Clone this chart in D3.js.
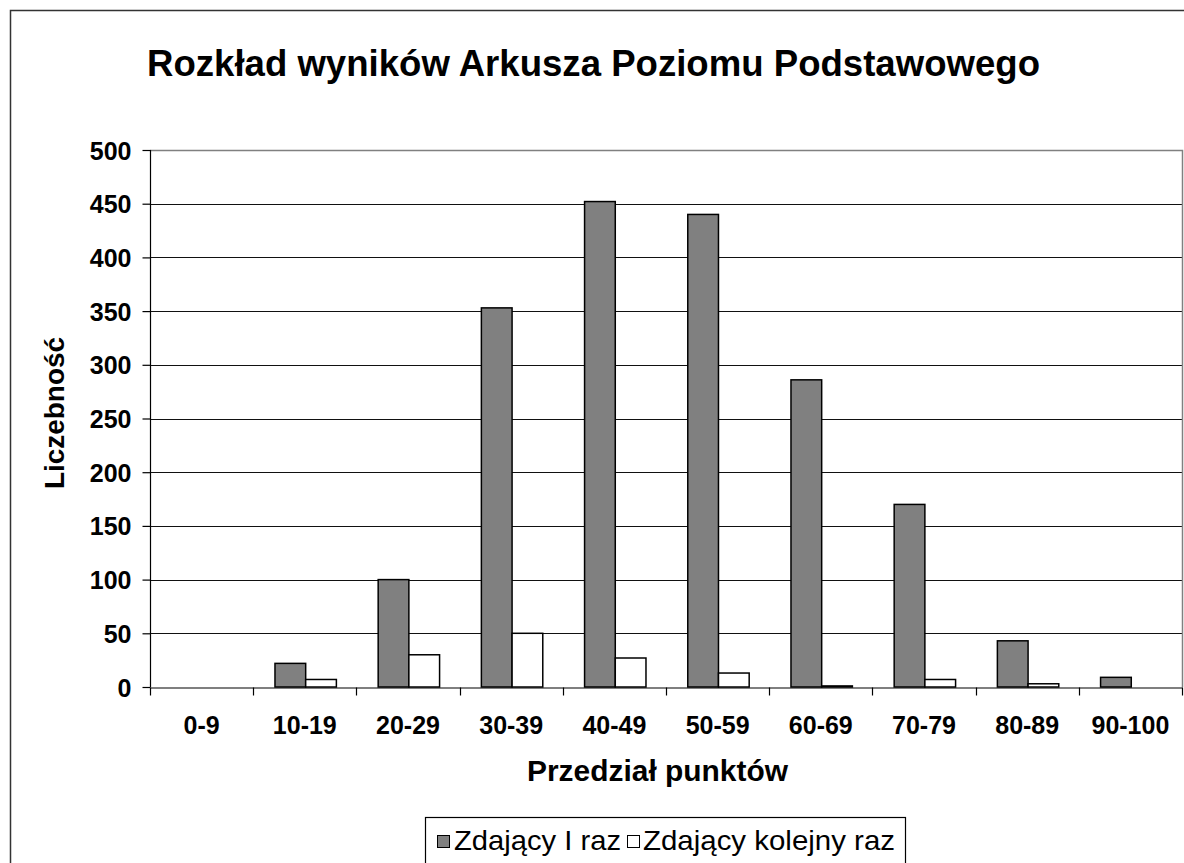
<!DOCTYPE html>
<html>
<head>
<meta charset="utf-8">
<script src="https://cdn.jsdelivr.net/npm/d3@7"></script>
<style>
  html, body { margin: 0; padding: 0; background: #fff; }
  svg { display: block; }
  text { font-family: "Liberation Sans", Arial, sans-serif; fill: #000; }
</style>
</head>
<body>
<svg id="chart" width="1184" height="863"></svg>
<script>
const title = "Rozkład wyników Arkusza Poziomu Podstawowego";
const categories = ["0-9", "10-19", "20-29", "30-39", "40-49", "50-59", "60-69", "70-79", "80-89", "90-100"];
const seriesNames = ["Zdający I raz", "Zdający kolejny raz"];
const firstTime = [0, 22, 100, 353, 452, 440, 286, 170, 43, 9];
const nextTime = [0, 7, 30, 50, 27, 13, 1, 7, 3, 0];
const yTicks = [0, 50, 100, 150, 200, 250, 300, 350, 400, 450, 500];
const xTitle = "Przedział punktów";
const yTitle = "Liczebność";
const colors = ["#808080", "#ffffff"];

const svg = d3.select("#chart");
const W = 1184, H = 863;
const m = { left: 150, right: 1182, top: 150, bottom: 687 };

// outer chart border
svg.append("rect").attr("x", 10.5).attr("y", 10.5).attr("width", W).attr("height", H)
  .attr("fill", "#fff").attr("stroke", "#333").attr("stroke-width", 1.5);

const x = d3.scaleBand().domain(categories).range([m.left, m.right]).paddingInner(0).paddingOuter(0);
const y = d3.scaleLinear().domain([0, 500]).range([m.bottom, m.top]);

const bw = x.bandwidth();
const offset = bw * 0.211;
const barW = bw * 0.2975;

// gridlines
svg.append("g").selectAll("line").data(yTicks.filter(d => d > 0 && d < 500)).join("line")
  .attr("x1", m.left).attr("x2", m.right)
  .attr("y1", d => Math.round(y(d)) + 0.5).attr("y2", d => Math.round(y(d)) + 0.5)
  .attr("stroke", "#111").attr("stroke-width", 1);

// plot area top/right border
svg.append("path")
  .attr("d", `M${m.left},${m.top + 0.5}H${m.right + 0.5}V${m.bottom}`)
  .attr("fill", "none").attr("stroke", "#808080").attr("stroke-width", 1.5);

// bars
const data = categories.map((c, i) => ({ c, vals: [firstTime[i], nextTime[i]] }));
const g = svg.append("g");
data.forEach(d => {
  d.vals.forEach((v, s) => {
    if (v <= 0) return;
    g.append("rect")
      .attr("x", x(d.c) + offset + s * barW)
      .attr("y", y(v))
      .attr("width", barW)
      .attr("height", y(0) - y(v))
      .attr("fill", colors[s])
      .attr("stroke", "#000").attr("stroke-width", 1.5);
  });
});

// y axis
const yAxis = d3.axisLeft(y).tickValues(yTicks).tickSize(8).tickPadding(11);
const ya = svg.append("g").attr("transform", `translate(${m.left + 0.5},0)`).call(yAxis);
ya.selectAll("path, line").attr("stroke", "#000").attr("stroke-width", 1.2);
ya.select(".domain").attr("d", `M0,${m.top}V${m.bottom}`);
ya.selectAll("text").attr("font-size", 25).attr("font-weight", "bold")
  .attr("font-family", "Liberation Sans, Arial, sans-serif").attr("fill", "#000")
  .attr("dy", "0.36em");

// x axis
const xAxis = d3.axisBottom(x).tickSize(0).tickPadding(0);
const xa = svg.append("g").attr("transform", `translate(0,${m.bottom + 0.5})`).call(xAxis);
xa.select(".domain").attr("stroke", "#000").attr("stroke-width", 1.2);
xa.selectAll("text").attr("font-size", 25).attr("font-weight", "bold")
  .attr("font-family", "Liberation Sans, Arial, sans-serif").attr("fill", "#000")
  .attr("y", 46.5).attr("dy", 0);
// category boundary ticks
const bounds = categories.map(c => x(c)).concat([m.right]);
xa.append("g").selectAll("line").data(bounds).join("line")
  .attr("x1", d => Math.round(d) + 0.5).attr("x2", d => Math.round(d) + 0.5)
  .attr("y1", 0).attr("y2", 8).attr("stroke", "#000").attr("stroke-width", 1.2);

// title
svg.append("text").attr("x", 593.5).attr("y", 76).attr("text-anchor", "middle")
  .attr("font-size", 37).attr("font-weight", "bold")
  .attr("textLength", 893).attr("lengthAdjust", "spacingAndGlyphs")
  .text(title);

// axis titles
svg.append("text").attr("x", 657.5).attr("y", 781).attr("text-anchor", "middle")
  .attr("font-size", 29).attr("font-weight", "bold")
  .attr("textLength", 261).attr("lengthAdjust", "spacingAndGlyphs").text(xTitle);
svg.append("text").attr("transform", "translate(63.5,413) rotate(-90)").attr("text-anchor", "middle")
  .attr("font-size", 28.5).attr("font-weight", "bold")
  .attr("textLength", 152).attr("lengthAdjust", "spacingAndGlyphs").text(yTitle);

// legend
const lg = svg.append("g");
lg.append("rect").attr("x", 425.5).attr("y", 817.5).attr("width", 480).attr("height", 60)
  .attr("fill", "#fff").attr("stroke", "#000").attr("stroke-width", 1.2);
const items = [
  { name: seriesNames[0], color: colors[0], x: 437, tx: 454, tw: 167 },
  { name: seriesNames[1], color: colors[1], x: 627, tx: 643, tw: 252 }
];
items.forEach(it => {
  lg.append("rect").attr("x", it.x + 0.5).attr("y", 835.5).attr("width", 12).attr("height", 12)
    .attr("fill", it.color).attr("stroke", "#000").attr("stroke-width", 1);
  lg.append("text").attr("x", it.tx).attr("y", 849.5).attr("font-size", 27.5)
    .attr("textLength", it.tw).attr("lengthAdjust", "spacingAndGlyphs").text(it.name);
});
</script>
</body>
</html>
